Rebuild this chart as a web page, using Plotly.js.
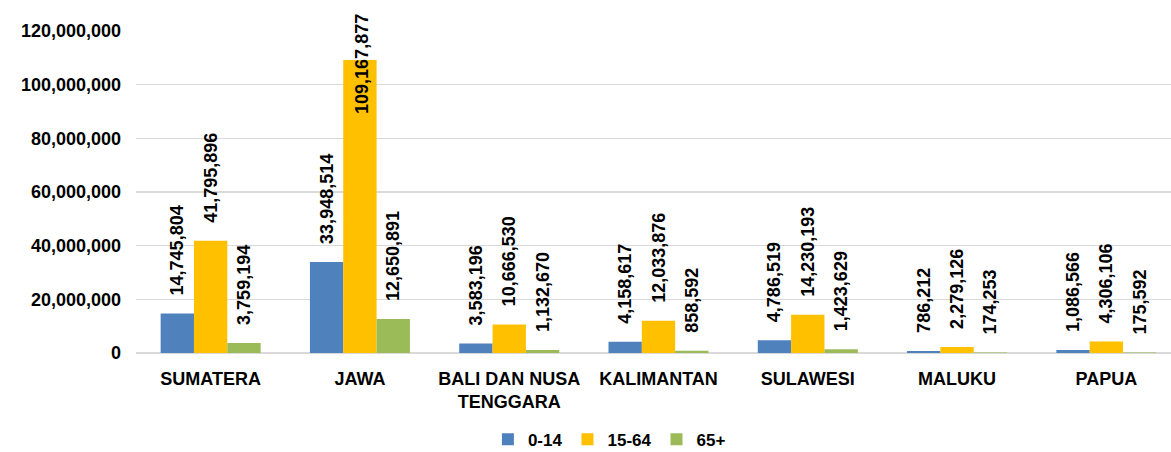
<!DOCTYPE html>
<html>
<head>
<meta charset="utf-8">
<script src="https://cdn.plot.ly/plotly-3.0.1.min.js"></script>
<style>
  html, body { margin: 0; padding: 0; background: #fff; }
  #plot { width: 1171px; height: 452px; }
</style>
</head>
<body>
<div id="plot"></div>
<script>
// regions and age groups
const regions = ["SUMATERA", "JAWA", "BALI DAN NUSA<br>TENGGARA", "KALIMANTAN", "SULAWESI", "MALUKU", "PAPUA"];
const age0to14 = [14745804, 33948514, 3583196, 4158617, 4786519, 786212, 1086566];
const age15to64 = [41795896, 109167877, 10666530, 12033876, 14230193, 2279126, 4306106];
const age65plus = [3759194, 12650891, 1132670, 858592, 1423629, 174253, 175592];

const colors = ["#4F81BD", "#FFC000", "#9BBB59"];
const font = "Liberation Sans, Arial, sans-serif";

// value labels sit a little above the bar, like in Excel
const pad = "\u00a0\u00a0\u00a0";
const fmt = v => v.toLocaleString("en-US");

function series(name, values, color, skip) {
    return {
        type: "bar",
        name: name,
        x: regions,
        y: values,
        marker: { color: color },
        text: values.map((v, i) => (skip === i ? "" : pad + fmt(v))),
        textposition: "outside",
        textangle: -90,
        constraintext: "none",
        cliponaxis: false,
        textfont: { family: font, size: 18, color: "#000", weight: "bold" },
        hoverinfo: "x+y+name"
    };
}

// the tallest label does not fit above its bar, so it is drawn as an annotation
const tallIdx = age15to64.indexOf(Math.max(...age15to64));

const data = [
    series("0-14", age0to14, colors[0]),
    series("15-64", age15to64, colors[1], tallIdx),
    series("65+", age65plus, colors[2])
];

const layout = {
    width: 1171,
    height: 452,
    margin: { l: 136, r: 0, t: 31, b: 99 },
    paper_bgcolor: "#fff",
    plot_bgcolor: "#fff",
    font: { family: font, size: 18, color: "#000" },
    barmode: "group",
    bargap: 0.33,
    bargroupgap: 0,
    showlegend: true,
    legend: {
        orientation: "h",
        x: 0.34, xanchor: "left",
        yref: "container", y: 0.027, yanchor: "middle",
        font: { family: font, size: 17, color: "#000", weight: "bold" },
        itemwidth: 30,
        traceorder: "normal"
    },
    xaxis: {
        range: [-0.5, 6.433],
        showgrid: false,
        showline: false,
        ticks: "",
        ticklabelstandoff: 13,
        tickfont: { family: font, size: 18, color: "#000", weight: "bold" }
    },
    yaxis: {
        range: [0, 120000000],
        dtick: 20000000,
        tickformat: ",d",
        showgrid: true,
        gridcolor: "#D9D9D9",
        gridwidth: 1.3,
        zeroline: true,
        zerolinecolor: "#D9D9D9",
        zerolinewidth: 1.5,
        showline: false,
        ticks: "",
        ticklabelstandoff: 14,
        tickfont: { family: font, size: 18, color: "#000", weight: "bold" }
    },
    annotations: [{
        x: regions[tallIdx],
        y: 120000000,
        xref: "x", yref: "y",
        text: fmt(age15to64[tallIdx]),
        textangle: -90,
        showarrow: false,
        xanchor: "center",
        yanchor: "top",
        yshift: 19,
        xshift: 2,
        font: { family: font, size: 18, color: "#000", weight: "bold" }
    }]
};

Plotly.newPlot("plot", data, layout, { displayModeBar: false, staticPlot: true });
</script>
</body>
</html>
